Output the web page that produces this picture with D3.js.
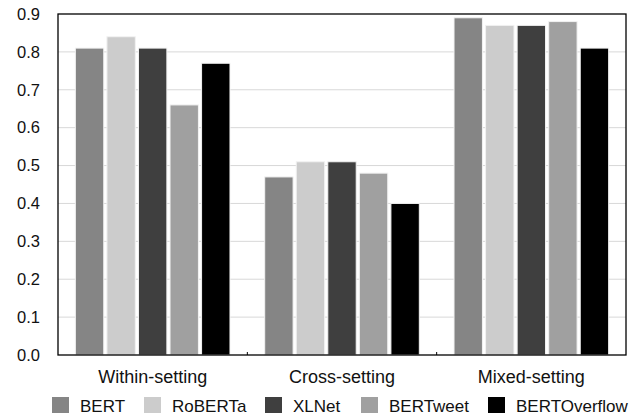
<!DOCTYPE html>
<html><head><meta charset="utf-8">
<script src="https://cdn.jsdelivr.net/npm/d3@7"></script>
<style>body{margin:0;background:#fff}svg{display:block}text{font-family:"Liberation Sans",Arial,Helvetica,sans-serif;fill:#111}</style>
</head><body><svg id="c" width="639" height="418"></svg>
<script>
const categories = ["Within-setting", "Cross-setting", "Mixed-setting"];
const models = ["BERT", "RoBERTa", "XLNet", "BERTweet", "BERTOverflow"];
const BERT = [0.81, 0.47, 0.89];
const RoBERTa = [0.84, 0.51, 0.87];
const XLNet = [0.81, 0.51, 0.87];
const BERTweet = [0.66, 0.48, 0.88];
const BERTOverflow = [0.77, 0.40, 0.81];
const yTicks = [0.0, 0.1, 0.2, 0.3, 0.4, 0.5, 0.6, 0.7, 0.8, 0.9];
const colors = ["#858585", "#cccccc", "#3f3f3f", "#a0a0a0", "#000000"];

const series = [BERT, RoBERTa, XLNet, BERTweet, BERTOverflow];
const svg = d3.select("#c");
const L = 58, T = 14, R = 626, B = 355;

const x = d3.scaleBand().domain(categories).range([L, R]).padding(0);
const xi = d3.scaleBand().domain(models).range([0, x.bandwidth()]).paddingInner(0.1).paddingOuter(0.55);
const y = d3.scaleLinear().domain([0, 0.9]).range([B, T]);

// gridlines
svg.append("g").selectAll("line").data(yTicks.filter(t => t > 0 && t < 0.9)).join("line")
  .attr("x1", L).attr("x2", R).attr("y1", d => y(d)).attr("y2", d => y(d))
  .attr("stroke", "#d8d8d8").attr("stroke-width", 1);

// bars
const g = svg.append("g");
categories.forEach((c, ci) => {
  models.forEach((m, mi) => {
    const v = series[mi][ci];
    g.append("rect")
      .attr("x", x(c) + xi(m)).attr("width", xi.bandwidth())
      .attr("y", y(v)).attr("height", y(0) - y(v))
      .attr("fill", colors[mi]).attr("stroke", "#f2f2f2").attr("stroke-width", 1);
  });
});

// frame
svg.append("rect").attr("x", L).attr("y", T).attr("width", R - L).attr("height", B - T)
  .attr("fill", "none").attr("stroke", "#000").attr("stroke-width", 1.3);

// bottom ticks between categories
svg.append("g").selectAll("line").data(categories.slice(1)).join("line")
  .attr("x1", d => x(d)).attr("x2", d => x(d)).attr("y1", B).attr("y2", B - 3)
  .attr("stroke", "#000").attr("stroke-width", 1);

// y axis labels
const yAxis = d3.axisLeft(y).tickValues(yTicks).tickFormat(d3.format(".1f")).tickSize(0).tickPadding(18);
const ya = svg.append("g").attr("transform", `translate(${L},0)`).call(yAxis);
ya.select(".domain").remove();
ya.selectAll("text").style("font-size", "16.5px").attr("fill", "#111").attr("font-family", null);

// x labels
const xAxis = d3.axisBottom(x).tickSize(0).tickPadding(15);
const xa = svg.append("g").attr("transform", `translate(0,${B})`).call(xAxis);
xa.select(".domain").remove();
xa.selectAll("text").style("font-size", "18px").attr("fill", "#111").attr("font-family", null);

// legend
const legX = [52, 144, 265, 361, 488];
const lg = svg.append("g");
models.forEach((m, i) => {
  lg.append("rect").attr("x", legX[i]).attr("y", 397).attr("width", 17).attr("height", 16).attr("fill", colors[i]);
  lg.append("text").attr("x", legX[i] + 28).attr("y", 412).style("font-size", "17px").text(m);
});
</script></body></html>
